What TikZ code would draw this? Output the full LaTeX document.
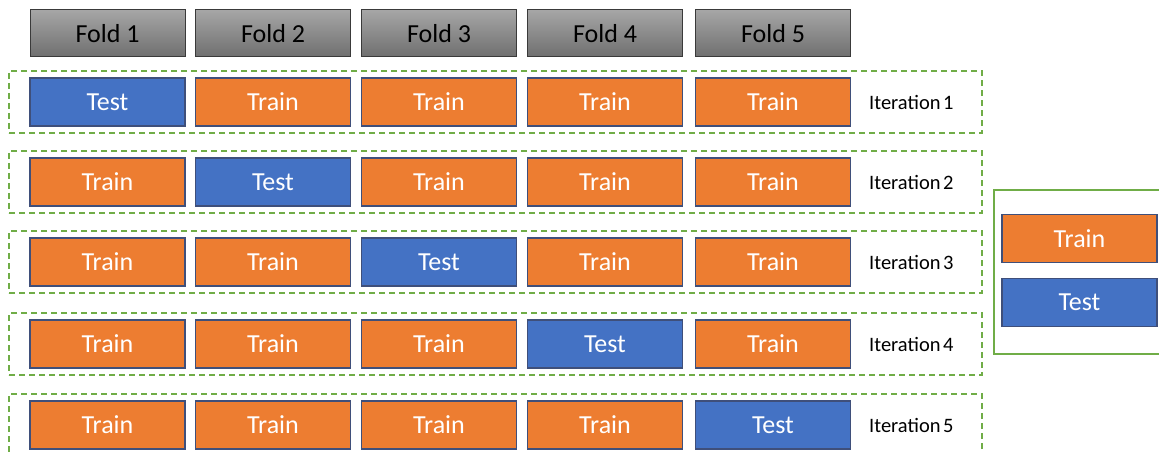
\documentclass[tikz,border=0pt]{standalone}
\usepackage{fontspec}
\setmainfont{Carlito}
\usetikzlibrary{positioning}
\definecolor{trainfill}{HTML}{ED7D31}
\definecolor{testfill}{HTML}{4472C4}
\definecolor{celledge}{HTML}{3F4F7A}
\definecolor{foldtop}{HTML}{A6A6A6}
\definecolor{foldbot}{HTML}{6F6F6F}
\definecolor{foldedge}{HTML}{3A3A3A}
\definecolor{framegreen}{HTML}{70AD47}
\tikzset{
  cell/.style={draw=celledge, line width=1.6pt, minimum width=155pt, minimum height=48pt,
    inner sep=0pt, text=white, font=\fontsize{26}{26}\selectfont},
  train/.style={cell, fill=trainfill},
  test/.style={cell, fill=testfill},
  fold/.style={draw=foldedge, line width=1pt, top color=foldtop, bottom color=foldbot,
    minimum width=155pt, minimum height=47pt, inner sep=0pt, text=black,
    font=\fontsize{26}{26}\selectfont},
  iterframe/.style={draw=framegreen, line width=1.8pt, dash pattern=on 6pt off 4pt,
    minimum width=973pt, minimum height=62pt, inner sep=0pt},
  iterlabel/.style={anchor=west, inner sep=0pt, font=\fontsize{20.5}{20.5}\selectfont},
  legendframe/.style={draw=framegreen, line width=1.8pt, minimum width=180pt,
    minimum height=164pt, inner sep=0pt},
}
\begin{document}
\begin{tikzpicture}[x=1pt,y=-1pt]
\useasboundingbox (0,0) rectangle (1159,452);

% fold headers
\foreach \k/\x in {1/107.5, 2/273, 3/439, 4/605, 5/773}
  \node[fold] (f\k) at (\x,33.5) {Fold \k};

% one dashed frame per iteration, the test fold moving one column each time
\foreach \r/\y in {1/102, 2/182, 3/262, 4/344, 5/425}{
  \node[iterframe] (frame\r) at (495.5,\y) {};
  \foreach \k/\x in {1/107.5, 2/273, 3/439, 4/605, 5/773}{
    \ifnum\k=\r
      \node[test] (c\r\k) at (\x,\y) {Test};
    \else
      \node[train] (c\r\k) at (\x,\y) {Train};
    \fi
  }
  \node[iterlabel] (it\r) at (869,\y) {Iteration\kern0.12em\r};
}

% legend
\node[legendframe, anchor=north west] (legend) at (993,189) {};
\node[train] (legtrain) at (1079.5,238.5) {Train};
\node[test] (legtest) at (1079.5,302.5) {Test};
\end{tikzpicture}
\end{document}
